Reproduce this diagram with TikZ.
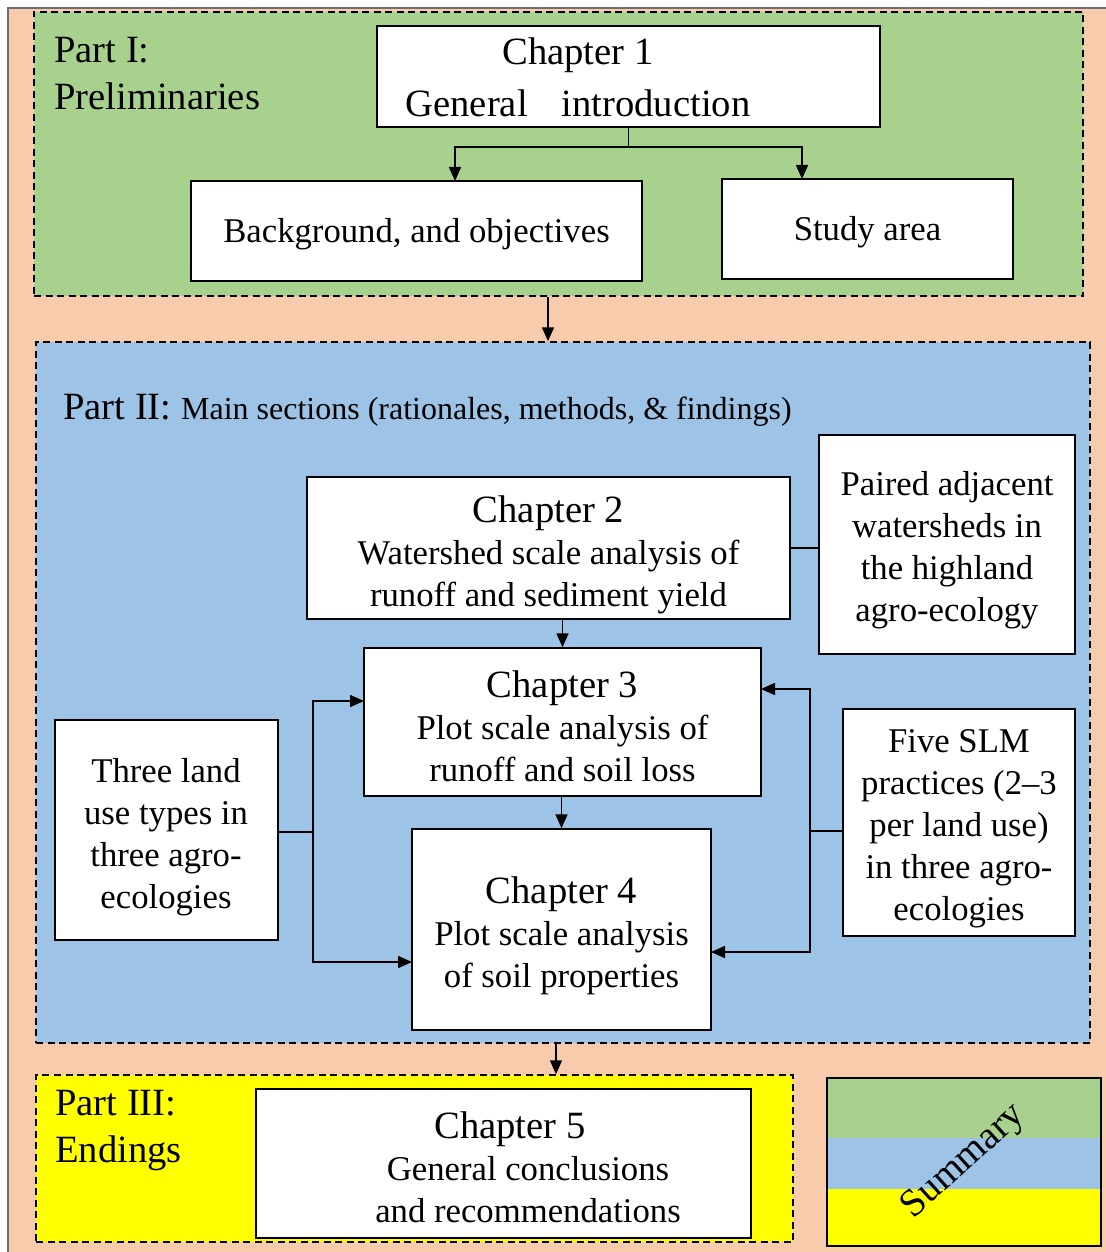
\documentclass[tikz,border=0pt]{standalone}
\usepackage{fontspec}
\setmainfont{Liberation Serif}
\usetikzlibrary{arrows.meta,calc}
\definecolor{peach}{HTML}{F8CBAD}
\definecolor{partgreen}{HTML}{A9D18E}
\definecolor{partblue}{HTML}{9DC3E6}
\definecolor{partyellow}{HTML}{FFFF00}
\definecolor{framegray}{HTML}{6E6E6E}
\newcommand\diagbody{\fontsize{34.7}{42}\selectfont}
\newcommand\diaghead{\fontsize{38.6}{43}\selectfont}
\newcommand\diagtitle{\fontsize{32}{40}\selectfont}

\begin{document}
\begin{tikzpicture}[x=1pt,y=-1pt,
  box/.style={draw=black, fill=white, line width=1.5pt, inner sep=0pt},
  part/.style={draw=black, line width=1.5pt, dash pattern=on 7pt off 4.5pt,
               inner sep=0pt},
  plain/.style={inner sep=0pt, align=center, font=\diagbody},
  link/.style={line width=1.6pt},
  arr/.style={link, -{Triangle[length=14pt,width=12pt]}},
  parttext/.style={inner sep=0pt, anchor=base west, font=\diaghead}
]
\useasboundingbox (0,0) rectangle (1105,1252);

% page background with its frame on the top and left
\fill[peach] (8,8) rectangle (1110,1260);
\draw[framegray, line width=1.5pt] (8,1260) -- (8,8) -- (1110,8);

% the three parts
\node[part, fill=partgreen, minimum width=1049, minimum height=284] (part1) at (558.5,154) {};
\node[part, fill=partblue, minimum width=1054, minimum height=701] (part2) at (563,692.5) {};
\node[part, fill=partyellow, minimum width=757, minimum height=167] (part3) at (414.5,1158.5) {};

\node[parttext] (p1a) at (54,63) {Part I:};
\node[parttext] (p1b) at (54,110) {Preliminaries};
\node[parttext] (p2a) at (63,419) {Part II: {\diagtitle Main sections (rationales, methods, \& findings)}};
\node[parttext] (p3a) at (55,1115) {Part III:};
\node[parttext] (p3b) at (55,1162) {Endings};

% Part I
\node[box, minimum width=503, minimum height=101] (ch1) at (628.5,76.5) {};
\node[plain, font=\diaghead] (ch1text) at (578,77) {Chapter 1\\[9pt]General\hspace{34pt}introduction};
\node[box, minimum width=451, minimum height=100] (bg) at (416.5,231) {};
\node[plain] (bgtext) at (416.5,234) {Background, and objectives};
\node[box, minimum width=291, minimum height=100] (sa) at (867.5,229) {};
\node[plain] (satext) at (867.5,232) {Study area};

% Part II
\node[box, minimum width=483, minimum height=142] (ch2) at (548.5,548) {};
\node[plain] (ch2text) at (548.5,555)
  {{\diaghead Chapter 2}\\Watershed scale analysis of\\runoff and sediment yield};
\node[box, minimum width=256, minimum height=219] (paired) at (947,544.5) {};
\node[plain] (pairedtext) at (947,550.5)
  {Paired adjacent\\watersheds in\\the highland\\agro-ecology};
\node[box, minimum width=397, minimum height=148] (ch3) at (562.5,722) {};
\node[plain] (ch3text) at (562.5,726)
  {{\diaghead Chapter 3}\\Plot scale analysis of\\runoff and soil loss};
\node[box, minimum width=299, minimum height=201] (ch4) at (561.5,929.5) {};
\node[plain] (ch4text) at (561.5,935.5)
  {{\diaghead Chapter 4}\\Plot scale analysis\\of soil properties};
\node[box, minimum width=223, minimum height=220] (three) at (166.5,830) {};
\node[plain] (threetext) at (166,837)
  {Three land\\use types in\\three agro-\\ecologies};
\node[box, minimum width=232, minimum height=227] (five) at (959,822.5) {};
\node[plain] (fivetext) at (959,828.5)
  {Five SLM\\practices (2--3\\per land use)\\in three agro-\\ecologies};

% Part III
\node[box, minimum width=495, minimum height=149] (ch5) at (503.5,1163.5) {};
\node[plain] (ch5text) at (528,1167) {{\diaghead Chapter 5}\hspace*{36pt}\\General conclusions\\and recommendations};

% summary key
\fill[partgreen] (827,1078) rectangle (1101,1138);
\fill[partblue] (827,1138) rectangle (1101,1189);
\fill[partyellow] (827,1189) rectangle (1101,1246);
\node[draw=black, line width=1.5pt, inner sep=0pt, minimum width=274, minimum height=168] (summary) at (964,1162) {};
\node[plain, font=\fontsize{39}{40}\selectfont, rotate=42] (sumtext) at (964,1162) {Summary};

% junction points of the connectors
\coordinate (j1) at (628.5,147);
\coordinate (bgin) at (455,181);
\coordinate (sain) at (802,179);
\coordinate (x12) at (548,0);
\coordinate (x23) at (556,0);
\coordinate (lbus) at (313,832);
\coordinate (ch3l) at (364,701);
\coordinate (ch4l) at (412,962);
\coordinate (rbus) at (810,831);
\coordinate (ch3r) at (761,689);
\coordinate (ch4r) at (711,952);

% connectors
\draw[link] (ch1.south) -- (j1);
\draw[arr] (j1) -| (bgin);
\draw[arr] (j1) -| (sain);
\draw[arr] (part1.south -| x12) -- (part2.north -| x12);
\draw[link] (ch2.east) -- (ch2.east -| paired.west);
\draw[arr] (ch2.south -| ch3.north) -- (ch3.north);
\draw[arr] (ch3.south -| ch4.north) -- (ch4.north);
\draw[link] (three.east |- lbus) -- (lbus);
\draw[arr] (lbus) |- (ch3l);
\draw[arr] (lbus) |- (ch4l);
\draw[link] (five.west |- rbus) -- (rbus);
\draw[arr] (rbus) |- (ch3r);
\draw[arr] (rbus) |- (ch4r);
\draw[arr] (part2.south -| x23) -- (part3.north -| x23);
\end{tikzpicture}
\end{document}
